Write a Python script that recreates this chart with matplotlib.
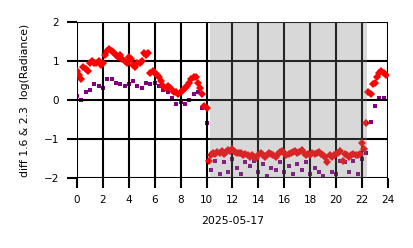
import matplotlib
matplotlib.use('Agg')
import matplotlib.pyplot as plt
import numpy as np

# hours of day (UTC), 10-min steps for red, 20-min steps for purple
red_vals = [
    0.75, 0.65, 0.55, 0.85, 0.80, 0.75,
    0.95, 1.00, 0.95, 0.95, 1.00, 0.90,
    0.95, 1.15, 1.25, 1.30, 1.25, 1.20,
    1.15, 1.10, 1.15, 1.05, 1.00, 0.95,
    1.10, 1.05, 0.90, 0.85, 0.95, 0.95,
    1.00, 1.20, 1.15, 1.20, 0.70, 0.75,
    0.70, 0.65, 0.60, 0.50, 0.35, 0.30,
    0.35, 0.30, 0.25, 0.20, 0.20, 0.15,
    0.20, 0.25, 0.30, 0.35, 0.45, 0.55,
    0.60, 0.60, 0.45, 0.30, 0.15, -0.15,
    -0.20, -1.55, -1.40, -1.35, -1.38, -1.32,
    -1.35, -1.30, -1.38, -1.33, -1.28, -1.30,
    -1.25, -1.32, -1.35, -1.37, -1.35, -1.40,
    -1.38, -1.42, -1.45, -1.40, -1.45, -1.48,
    -1.42, -1.35, -1.40, -1.45, -1.40, -1.35,
    -1.38, -1.42, -1.45, -1.38, -1.32, -1.30,
    -1.35, -1.40, -1.38, -1.35, -1.33, -1.30,
    -1.35, -1.32, -1.28, -1.35, -1.40, -1.38,
    -1.40, -1.35, -1.38, -1.36, -1.33, -1.38,
    -1.40, -1.45, -1.58, -1.42, -1.45, -1.40,
    -1.38, -1.35, -1.30, -1.55, -1.38, -1.42,
    -1.45, -1.40, -1.38, -1.42, -1.40, -1.38,
    -1.10, -1.25, -0.60, 0.20, 0.15, 0.40,
    0.45, 0.60, 0.70, 0.75, 0.70, 0.65,
]
purple_vals = [
    0.10, 0.00, 0.20,
    0.25, 0.40, 0.35,
    0.30, 0.55, 0.55,
    0.45, 0.40, 0.35,
    0.40, 0.50, 0.35,
    0.30, 0.45, 0.40,
    0.45, 0.35, 0.25,
    0.20, 0.05, -0.10,
    -0.05, -0.10, 0.00,
    0.15, 0.20, -0.20,
    -0.60, -1.80, -1.55,
    -1.90, -1.60, -1.85,
    -1.50, -1.75, -1.90,
    -1.60, -1.70, -1.55,
    -1.85, -1.65, -1.95,
    -1.75, -1.80, -1.60,
    -1.85, -1.70, -1.90,
    -1.65, -1.80, -1.60,
    -1.90, -1.75, -1.85,
    -1.95, -1.55, -1.85,
    -1.90, -1.55, -1.60,
    -1.85, -1.55, -1.90,
    -1.50, -1.35, -0.55,
    -0.15, 0.05, 0.05,
]
red_hours = np.arange(len(red_vals)) / 6.0
purple_hours = np.arange(len(purple_vals)) / 3.0

shade_start, shade_end = 10.3, 22.4
date_label = '2025-05-17'

fig = plt.figure(figsize=(4.14, 2.48), dpi=100)
ax = fig.add_axes([0.186, 0.282, 0.751, 0.629])

ax.plot(purple_hours, purple_vals, 's', color='purple', ms=2.8, mew=0, zorder=2)
ax.plot(red_hours, red_vals, 'D', color='red', ms=3.6, mew=0, zorder=3)
ax.axvspan(shade_start, shade_end, color='gray', alpha=0.3, lw=0, zorder=4)

ax.set_xlim(0, 24)
ax.set_ylim(-2, 2)
ax.set_xticks(np.arange(0, 25, 2))
ax.set_yticks([-2, -1, 0, 1, 2])
ax.grid(True, color='black', lw=1.5, zorder=5)
ax.set_axisbelow(False)
for s in ax.spines.values():
    s.set_visible(False)
ax.tick_params(axis='both', labelsize=7.5, width=1.5, length=7, color='black')
ax.tick_params(axis='x', pad=5)
ax.tick_params(axis='y', pad=6)
ax.set_xlabel(date_label, fontsize=7.8, labelpad=8)
ax.set_ylabel('diff 1.6 & 2.3  log(Radiance)', fontsize=7.8, labelpad=10)

fig.savefig('out.png', dpi=100)
